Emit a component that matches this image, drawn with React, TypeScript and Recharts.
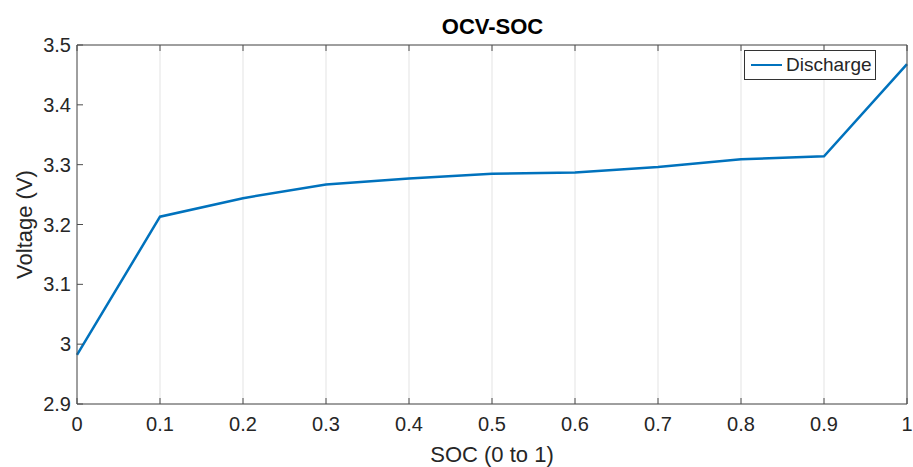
import { LineChart, Line, XAxis, YAxis, CartesianGrid, Label } from "recharts";

const SOC = [0, 0.1, 0.2, 0.3, 0.4, 0.5, 0.6, 0.7, 0.8, 0.9, 1];
const DISCHARGE = [2.982, 3.213, 3.244, 3.267, 3.277, 3.285, 3.287, 3.296, 3.309, 3.314, 3.468];
const X_TICKS = [0, 0.1, 0.2, 0.3, 0.4, 0.5, 0.6, 0.7, 0.8, 0.9, 1];
const Y_TICKS = [2.9, 3, 3.1, 3.2, 3.3, 3.4, 3.5];

const FONT = "'Liberation Sans', Arial, Helvetica, sans-serif";
const AXIS = "#4d4d4d";
const TEXT = "#262626";

const data = SOC.map((s, i) => ({ soc: s, v: DISCHARGE[i] }));

export default function App() {
  const blank = () => "";
  return (
    <div style={{ position: "absolute", left: 0, top: 0, width: 913, height: 467, background: "#fff", fontFamily: FONT }}>
      <LineChart width={913} height={467} data={data} margin={{ top: 44, right: 5, bottom: 0, left: 0 }}>
        <CartesianGrid stroke="#e3e3e3" strokeWidth={1} />
        <XAxis
          xAxisId="bottom"
          dataKey="soc"
          type="number"
          domain={[0, 1]}
          ticks={X_TICKS}
          tickFormatter={(v: number) => String(v)}
          height={63}
          stroke={AXIS}
          tickSize={-6}
          tickMargin={19}
          tick={{ fill: TEXT, fontSize: 20, fontFamily: FONT }}
        >
          <Label value="SOC (0 to 1)" position="insideBottom" offset={5} style={{ fill: TEXT, fontSize: 22, fontFamily: FONT }} />
        </XAxis>
        <XAxis
          xAxisId="top"
          orientation="top"
          dataKey="soc"
          type="number"
          domain={[0, 1]}
          ticks={X_TICKS}
          tickFormatter={blank}
          height={1}
          stroke={AXIS}
          tickSize={-6}
        />
        <YAxis
          yAxisId="left"
          type="number"
          domain={[2.9, 3.5]}
          ticks={Y_TICKS}
          tickFormatter={(v: number) => String(Math.round(v * 10) / 10)}
          width={77}
          stroke={AXIS}
          tickSize={-6}
          tickMargin={12}
          tick={{ fill: TEXT, fontSize: 20, fontFamily: FONT }}
        >
          <Label value="Voltage (V)" angle={-90} position="insideLeft" offset={24} style={{ fill: TEXT, fontSize: 22, fontFamily: FONT, textAnchor: "middle" }} />
        </YAxis>
        <YAxis
          yAxisId="right"
          orientation="right"
          type="number"
          domain={[2.9, 3.5]}
          ticks={Y_TICKS}
          tickFormatter={blank}
          width={1}
          stroke={AXIS}
          tickSize={-6}
        />
        <Line
          xAxisId="bottom"
          yAxisId="left"
          type="linear"
          dataKey="v"
          name="Discharge"
          stroke="#0072BD"
          strokeWidth={2.5}
          dot={false}
          isAnimationActive={false}
        />
      </LineChart>
      <div
        style={{
          position: "absolute",
          left: 77,
          width: 831,
          top: 14,
          textAlign: "center",
          fontWeight: "bold",
          fontSize: 22,
          color: "#000",
        }}
      >
        OCV-SOC
      </div>
      <div
        style={{
          position: "absolute",
          left: 744,
          top: 50,
          width: 132,
          height: 30,
          display: "flex",
          alignItems: "center",
          border: "1px solid #333",
          background: "#fff",
          padding: "0 0 0 6px",
          fontSize: 19,
          color: TEXT,
          boxSizing: "border-box",
          whiteSpace: "nowrap",
        }}
      >
        <span style={{ width: 31, height: 2.5, background: "#0072BD", marginRight: 4, flexShrink: 0 }} />
        Discharge
      </div>
    </div>
  );
}
